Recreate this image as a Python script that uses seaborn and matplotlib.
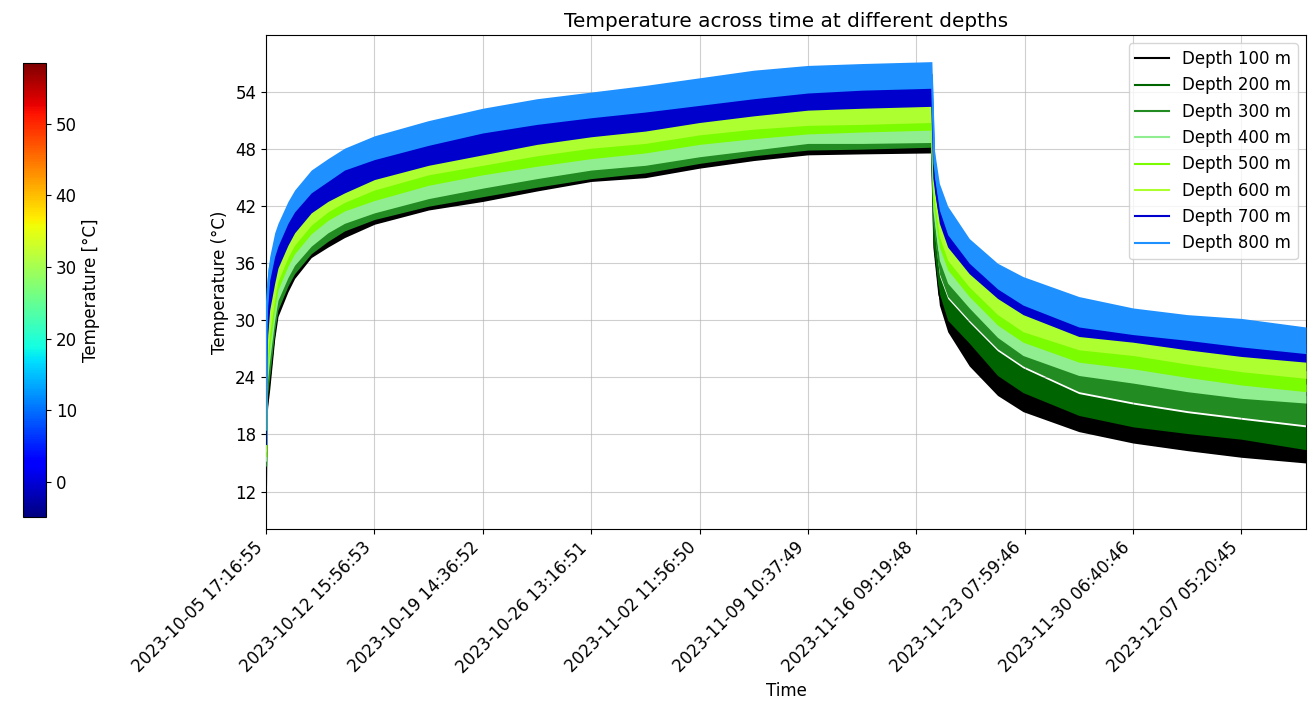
import matplotlib
matplotlib.use("Agg")
import matplotlib.pyplot as plt
import pandas as pd
import seaborn as sns
from matplotlib.cm import ScalarMappable
from matplotlib.colors import Normalize

plt.rcParams["font.size"] = 12
plt.rcParams["font.family"] = ["DejaVu Sans"]

# Sample index of each knot (one sample per minute; the drop is the end of heating)
time_index = [0, 60, 160, 340, 800, 1105, 2026, 2640, 4175, 5710, 7245, 10000, 15000,
              20000, 25000, 30000, 35000, 40000, 45000, 50000, 55000, 61440,
              61670, 62130, 62900, 64890, 67500, 69850, 75000, 80000, 85000,
              90000, 95960]

tick_positions = [0, 10000, 20000, 30000, 40000, 50000, 60000, 70000, 80000, 90000]
tick_labels = ["2023-10-05 17:16:55", "2023-10-12 15:56:53", "2023-10-19 14:36:52",
               "2023-10-26 13:16:51", "2023-11-02 11:56:50", "2023-11-09 10:37:49",
               "2023-11-16 09:19:48", "2023-11-23 07:59:46", "2023-11-30 06:40:46",
               "2023-12-07 05:20:45"]

depths = [100, 200, 300, 400, 500, 600, 700, 800]
colors = ["black", "darkgreen", "forestgreen", "lightgreen",
          "lawngreen", "greenyellow", "mediumblue", "dodgerblue"]

# Lower / upper envelope of the sensor noise for every depth (°C)
low_100 = [10.4, 19.0, 21.0, 22.7, 28.0, 30.4, 33.0, 34.4, 36.6, 37.7, 38.7, 40.1, 41.6,
           42.5, 43.6, 44.6, 45.0, 46.0, 46.8, 47.4, 47.5, 47.6,
           36.7, 31.6, 28.8, 25.2, 22.1, 20.4, 18.3, 17.1, 16.3, 15.6, 15.0]
high_100 = [15.0, 21.5, 23.5, 25.1, 29.9, 32.1, 34.6, 35.9, 38.0, 39.3, 40.4, 41.6, 43.0,
            44.0, 45.0, 45.9, 46.5, 47.5, 48.3, 48.9, 49.0, 49.2,
            38.7, 33.8, 31.0, 28.6, 25.2, 23.4, 21.0, 19.8, 19.1, 18.5, 17.4]

low_200 = [14.3, 20.8, 22.8, 24.4, 29.2, 31.4, 33.9, 35.2, 37.3, 38.6, 39.7, 40.9, 42.3,
           43.3, 44.3, 45.2, 45.8, 46.8, 47.6, 48.2, 48.3, 48.5,
           37.7, 32.8, 30.0, 27.6, 24.2, 22.4, 20.0, 18.8, 18.1, 17.5, 16.4]
high_200 = [15.2, 21.7, 23.7, 25.3, 30.1, 32.3, 34.8, 36.1, 38.2, 39.5, 40.6, 41.8, 43.2,
            44.2, 45.2, 46.1, 46.7, 47.7, 48.5, 49.1, 49.2, 49.4,
            39.1, 34.7, 32.3, 29.8, 26.8, 25.0, 22.3, 21.2, 20.3, 19.6, 18.8]

low_300 = [14.0, 20.5, 22.5, 24.1, 28.9, 31.1, 33.6, 34.9, 37.0, 38.3, 39.4, 40.6, 42.0,
           43.0, 44.0, 44.9, 45.5, 46.5, 47.3, 47.9, 48.0, 48.2,
           39.3, 34.9, 32.5, 30.0, 27.0, 25.2, 22.5, 21.4, 20.5, 19.8, 19.0]
high_300 = [15.5, 23.0, 25.0, 26.8, 31.0, 33.1, 35.5, 36.8, 38.8, 40.2, 41.2, 42.3, 43.8,
            44.9, 45.9, 46.8, 47.3, 48.2, 48.9, 49.6, 49.6, 49.7,
            41.3, 37.1, 34.7, 32.1, 29.0, 27.1, 25.0, 24.2, 23.3, 22.6, 22.1]

low_400 = [14.5, 22.0, 24.0, 25.8, 30.0, 32.1, 34.5, 35.8, 37.8, 39.2, 40.2, 41.3, 42.8,
           43.9, 44.9, 45.8, 46.3, 47.2, 47.9, 48.6, 48.6, 48.7,
           40.5, 36.3, 33.9, 31.3, 28.2, 26.3, 24.2, 23.4, 22.5, 21.8, 21.3]
high_400 = [16.0, 24.0, 26.3, 28.2, 32.2, 34.2, 36.7, 38.0, 40.1, 41.5, 42.5, 43.6, 45.2,
            46.3, 47.2, 48.0, 48.6, 49.5, 50.1, 50.6, 50.8, 51.0,
            42.6, 38.5, 36.1, 33.3, 30.3, 28.5, 26.4, 25.7, 24.8, 24.0, 23.3]

low_500 = [15.0, 23.0, 25.3, 27.2, 31.2, 33.2, 35.7, 37.0, 39.1, 40.5, 41.5, 42.6, 44.2,
           45.3, 46.2, 47.0, 47.6, 48.5, 49.1, 49.6, 49.8, 50.0,
           41.8, 37.7, 35.3, 32.5, 29.5, 27.7, 25.6, 24.9, 24.0, 23.2, 22.5]
high_500 = [16.5, 25.0, 27.5, 29.6, 33.2, 35.1, 37.6, 38.9, 41.0, 42.4, 43.4, 44.7, 46.3,
            47.3, 48.3, 49.1, 49.6, 50.5, 51.1, 51.5, 51.6, 51.8,
            43.4, 39.6, 37.1, 34.3, 31.4, 29.6, 27.7, 27.1, 26.2, 25.4, 24.7]

low_600 = [15.5, 24.0, 26.5, 28.6, 32.2, 34.1, 36.6, 37.9, 40.0, 41.4, 42.4, 43.7, 45.3,
           46.3, 47.3, 48.1, 48.6, 49.5, 50.1, 50.5, 50.6, 50.8,
           42.6, 38.8, 36.3, 33.5, 30.6, 28.8, 26.9, 26.3, 25.4, 24.6, 23.9]
high_600 = [17.0, 27.0, 29.5, 32.1, 34.9, 36.5, 38.9, 40.2, 42.3, 43.5, 44.4, 45.8, 47.3,
            48.4, 49.5, 50.3, 50.9, 51.8, 52.5, 53.1, 53.3, 53.5,
            44.7, 41.2, 38.7, 35.9, 33.3, 31.6, 29.3, 28.7, 27.9, 27.2, 26.6]

low_700 = [16.0, 26.0, 28.5, 31.1, 33.9, 35.5, 37.9, 39.2, 41.3, 42.5, 43.4, 44.8, 46.3,
           47.4, 48.5, 49.3, 49.9, 50.8, 51.5, 52.1, 52.3, 52.5,
           43.7, 40.2, 37.7, 34.9, 32.3, 30.6, 28.3, 27.7, 26.9, 26.2, 25.6]
high_700 = [18.0, 30.0, 32.5, 35.2, 37.7, 38.8, 41.2, 42.4, 44.4, 45.6, 46.8, 47.9, 49.4,
            50.7, 51.6, 52.3, 52.9, 53.6, 54.3, 54.9, 55.2, 55.4,
            46.1, 42.6, 40.0, 37.0, 34.3, 32.6, 30.3, 29.5, 28.9, 28.2, 27.5]

low_800 = [17.0, 29.0, 31.5, 34.2, 36.7, 37.8, 40.2, 41.4, 43.4, 44.6, 45.8, 46.9, 48.4,
           49.7, 50.6, 51.3, 51.9, 52.6, 53.3, 53.9, 54.2, 54.4,
           45.1, 41.6, 39.0, 36.0, 33.3, 31.6, 29.3, 28.5, 27.9, 27.2, 26.5]
high_800 = [20.0, 33.5, 35.0, 36.7, 39.2, 40.2, 42.5, 43.7, 45.8, 47.0, 48.1, 49.4, 51.0,
            52.3, 53.3, 54.0, 54.7, 55.5, 56.3, 56.8, 57.0, 57.2,
            47.9, 44.4, 42.0, 38.6, 36.0, 34.6, 32.5, 31.3, 30.6, 30.2, 29.3]

lows = [low_100, low_200, low_300, low_400, low_500, low_600, low_700, low_800]
highs = [high_100, high_200, high_300, high_400, high_500, high_600, high_700, high_800]

fig = plt.figure(figsize=(13.14, 7.04), dpi=100)
ax = fig.add_axes([266 / 1314, 175 / 704, 1040 / 1314, 494 / 704])
cax = fig.add_axes([23 / 1314, 187 / 704, 23 / 1314, 454 / 704])

handles = []
labels = []
for i, (depth, color, low, high) in enumerate(zip(depths, colors, lows, highs)):
    frame = pd.DataFrame({
        "time": time_index + time_index,
        "temperature": low + high,
    })
    z = 3 + i
    # centre line plus a min-max band covering the noise envelope
    sns.lineplot(data=frame, x="time", y="temperature", ax=ax, color=color,
                 errorbar=("pi", 100), zorder=z, legend=False,
                 err_kws={"alpha": 1.0, "linewidth": 0, "zorder": z})
    handles.append(ax.lines[-1])
    labels.append(f"Depth {depth} m")

ax.legend(handles, labels, loc="upper right")
ax.set_xlim(0, 95960)
ax.set_ylim(8.06, 60.0)
ax.set_yticks([12, 18, 24, 30, 36, 42, 48, 54])
ax.set_xticks(tick_positions)
ax.set_xticklabels(tick_labels, rotation=45, ha="right")
ax.grid(True, color="#b0b0b0", alpha=0.6)
ax.set_xlabel("Time")
ax.set_ylabel("Temperature (°C)")
ax.set_title("Temperature across time at different depths")

sm = ScalarMappable(norm=Normalize(vmin=-4.9, vmax=58.5), cmap="jet")
cb = fig.colorbar(sm, cax=cax)
cb.set_ticks([0, 10, 20, 30, 40, 50])
cb.set_label("Temperature [°C]")

fig.savefig("out.png", dpi=100)
